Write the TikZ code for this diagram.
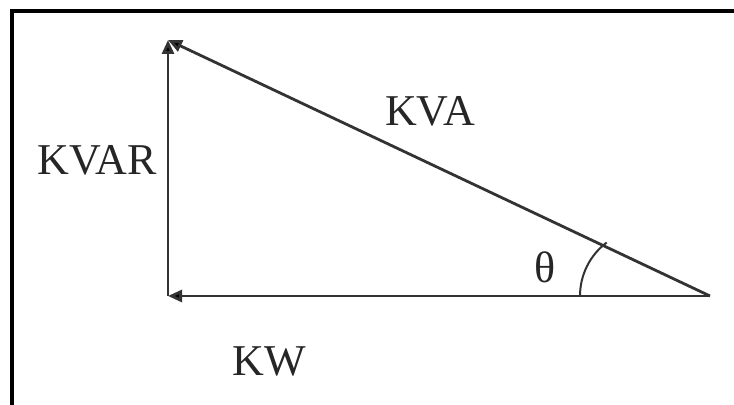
\documentclass[tikz,border=0pt]{standalone}
\usepackage{fontspec}
\setmainfont{Liberation Serif}
\usetikzlibrary{arrows.meta}
\begin{document}
\begin{tikzpicture}[x=0.5pt,y=-0.5pt,
  vec/.style={line width=1.4pt,draw=black!80,-{Triangle[length=7pt,width=6pt,fill=black]}},
  lbl/.style={font=\fontsize{22}{26}\selectfont,text=black!85,inner sep=0pt},
  frame/.style={line width=1.6pt,draw=black}]
\useasboundingbox (0,0) rectangle (734,405);
\draw[frame] (10,11) -- (734,11);
\draw[frame] (12,10) -- (12,405);
\coordinate (O) at (168,296);
\coordinate (T) at (168,40);
\coordinate (R) at (710,296);
\coordinate (A) at (580,296);
\draw[vec] (O) -- (T);
\draw[vec] (R) -- (O);
\draw[vec] (R) -- (T);
\draw[line width=1pt,draw=black!80] (A) arc[start angle=180,end angle=233,radius=67];
\node[lbl] (kvar) at (97,160) {KVAR};
\node[lbl] (kva) at (430,111) {KVA};
\node[lbl] (th) at (545,267) {θ};
\node[lbl] (kw) at (269,361) {KW};
\end{tikzpicture}
\end{document}
